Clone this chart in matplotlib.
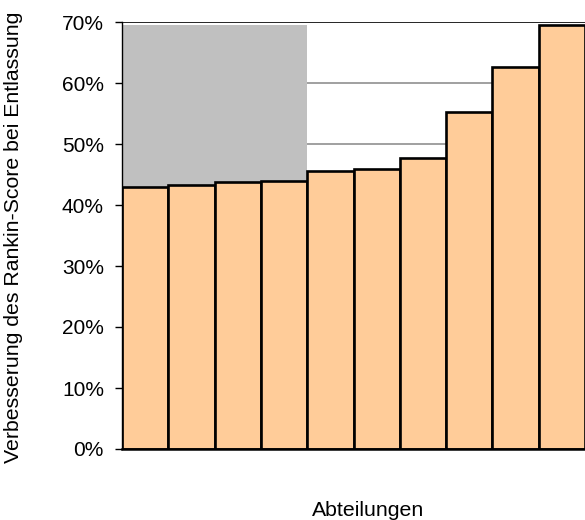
import matplotlib
matplotlib.use("Agg")
import matplotlib.pyplot as plt
from matplotlib.ticker import FuncFormatter

plt.rcParams['font.family'] = ['Liberation Sans', 'DejaVu Sans']

# Improvement share per department, sorted ascending (percent)
departments = list(range(1, 11))
improvement = [42.9, 43.3, 43.8, 44.0, 45.6, 45.9, 47.7, 55.2, 62.6, 69.5]

# Shaded band behind the lowest departments
shaded_count = 4
shade_level = 69.5

y_ticks = [0, 10, 20, 30, 40, 50, 60, 70]

fig = plt.figure(figsize=(5.85, 5.2), dpi=100)
ax = fig.add_axes([122 / 585, 71 / 520, (588 - 122) / 585, (449 - 22) / 520])

# Gridlines
for t in y_ticks[1:]:
    color = '#000000' if t == 70 else '#999999'
    lw = 1.2 if t == 70 else 1.3
    ax.axhline(t, color=color, linewidth=lw, zorder=0)

# Grey background band
ax.bar(departments[:shaded_count], [shade_level] * shaded_count, width=1.0,
       color='#C0C0C0', linewidth=0, zorder=1)

# Department bars
ax.bar(departments, improvement, width=1.0, color='#FFCC99',
       edgecolor='black', linewidth=1.9, zorder=2)

ax.set_xlim(0.5, 10.5 + 3 / 46.3)
ax.set_ylim(0, 70)
ax.set_yticks(y_ticks)
ax.yaxis.set_major_formatter(FuncFormatter(lambda v, p: f"{v:.0f}%"))
ax.set_xticks([])

for side in ['top', 'right']:
    ax.spines[side].set_visible(False)
ax.spines['left'].set_linewidth(1.0)
ax.spines['bottom'].set_linewidth(1.8)
ax.spines['bottom'].set_zorder(3)

ax.tick_params(axis='y', direction='out', length=5, width=1.0,
               labelsize=15, pad=8)

fig.text(14 / 585, 1 - 237 / 520, 'Verbesserung des Rankin-Score bei Entlassung',
         rotation=90, ha='center', va='center', fontsize=15.3)
fig.text(368 / 585, 1 - 511 / 520, 'Abteilungen', ha='center', va='center',
         fontsize=15.3)

fig.savefig('out.png', dpi=100)
